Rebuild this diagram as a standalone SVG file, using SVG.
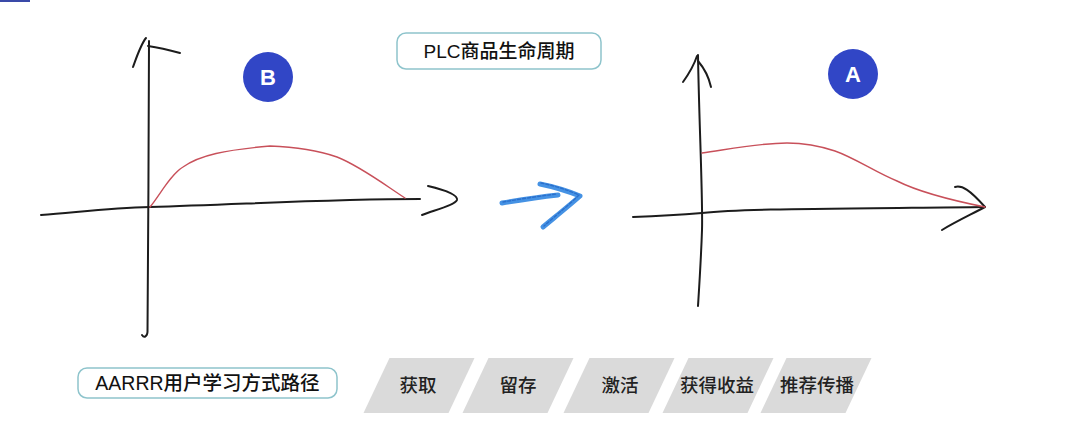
<svg xmlns="http://www.w3.org/2000/svg" width="1080" height="439" viewBox="0 0 1080 439">
<style>
.ink{fill:none;stroke:#1c1c1c;stroke-width:2;stroke-linecap:round;stroke-linejoin:round}
.curve{fill:none;stroke:#c8505a;stroke-width:1.4;stroke-linecap:round}
.badge{fill:#3146c6}
.badgeText{font-family:"Liberation Sans",Arial,sans-serif;font-weight:bold;font-size:22px;fill:#fff;text-anchor:middle}
.box{fill:#fff;stroke:#8ec4cc;stroke-width:1.5}
.boxText{font-family:"Liberation Sans","Noto Sans CJK SC",sans-serif;font-weight:500;fill:#111;text-anchor:middle}
.step{fill:#dadada}
.stepText{font-family:"Noto Sans CJK SC",sans-serif;font-weight:500;font-size:18.5px;fill:#222;text-anchor:middle}
.blue{fill:none;stroke:#4592e4;stroke-width:5;stroke-linecap:round;stroke-linejoin:round}
.blue2{fill:none;stroke:#2a6fcc;stroke-width:1.4;stroke-dasharray:3 2;stroke-linecap:round}
</style>
<rect width="1080" height="439" fill="#fff"/>
<rect x="0" y="0" width="30" height="2" fill="#3a4aa8"/>

<g id="chart-b">
  <path class="ink" d="M149,41 C149,120 148,250 147.5,332 C147,337 144,338 142,335"/>
  <path class="ink" d="M146,38 C141,44 137,56 133,67"/>
  <path class="ink" d="M148,46 Q162,48 180,53"/>
  <path class="ink" d="M41,215 C80,212 110,208 150,207 C250,204 330,199 420,199"/>
  <path class="ink" d="M428,186 C445,190 458,195 457,200 C455,205 435,210 422,215"/>
  <path class="curve" d="M150,207 C160,195 170,175 183,167 C200,155 225,150 270,146 C300,147 320,151 337,157 C360,166 385,185 405,198"/>
</g>
<g id="badge-b">
  <circle class="badge" cx="268" cy="77" r="25"/>
  <text class="badgeText" x="268" y="85">B</text>
</g>

<g id="title">
  <rect class="box" x="397" y="33" width="204" height="36" rx="9"/>
  <text class="boxText" x="499" y="57.5" font-size="19">PLC商品生命周期</text>
</g>

<g id="chart-a">
  <path class="ink" d="M698,55 C699,120 703,200 702,230 C701,260 699,290 698,306"/>
  <path class="ink" d="M697,56 C694,65 688,75 683,82"/>
  <path class="ink" d="M698,61 C704,68 709,78 711,87"/>
  <path class="ink" d="M633,217 C660,216 690,214 702,213 C740,209 800,209 985,207"/>
  <path class="ink" d="M955,187 C962,185 970,190 985,207 C970,215 955,222 942,230"/>
  <path class="curve" d="M702,153 C730,149 760,143 787,143 C805,143 820,146 835,151 C855,158 875,172 897,181 C915,190 940,198 985,207"/>
</g>
<g id="badge-a">
  <circle class="badge" cx="853" cy="74" r="25"/>
  <text class="badgeText" x="853" y="82">A</text>
</g>

<g id="connectors">
  <path class="blue" d="M502,203 C520,200 540,197 558,195"/>
  <path class="blue" d="M540,184 C555,187 570,192 580,196 C570,205 555,217 543,227"/>
  <path class="blue2" d="M503,202 C520,199 540,196 557,194 M541,183 C556,186 570,191 579,195 C569,205 555,216 544,226"/>
</g>

<g id="aarrr">
  <rect class="box" x="78" y="368" width="259" height="30" rx="9"/>
  <text class="boxText" x="207.5" y="390" font-size="19.5">AARRR用户学习方式路径</text>
</g>

<g id="step-1">
  <polygon class="step" points="389.5,358 474.5,358 448.5,413 363.5,413"/>
  <text class="stepText" x="418" y="392">获取</text>
</g>
<g id="step-2">
  <polygon class="step" points="488.5,358 573.5,358 547.5,413 462.5,413"/>
  <text class="stepText" x="518" y="392">留存</text>
</g>
<g id="step-3">
  <polygon class="step" points="589.5,358 674.5,358 648.5,413 563.5,413"/>
  <text class="stepText" x="620" y="392">激活</text>
</g>
<g id="step-4">
  <polygon class="step" points="688.5,358 773.5,358 747.5,413 662.5,413"/>
  <text class="stepText" x="717" y="392">获得收益</text>
</g>
<g id="step-5">
  <polygon class="step" points="786.5,358 871.5,358 845.5,413 760.5,413"/>
  <text class="stepText" x="817" y="392">推荐传播</text>
</g>
</svg>
